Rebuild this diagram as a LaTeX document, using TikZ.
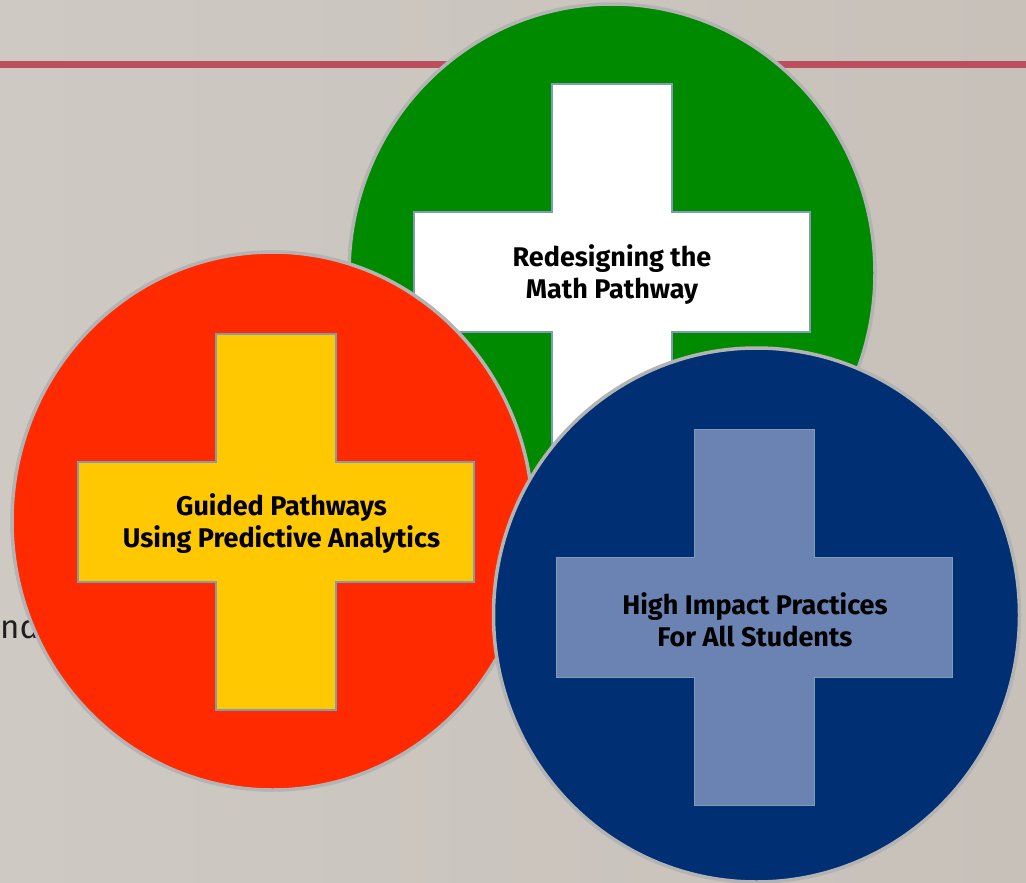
\documentclass[tikz,border=0pt]{standalone}
\usepackage{fontspec}
\setmainfont{Fira Sans}
\usetikzlibrary{shapes.geometric}
\definecolor{slidebg}{HTML}{CEC9C3}
\definecolor{slidebgr}{HTML}{C8C1BA}
\definecolor{rulered}{HTML}{BC4F5E}
\definecolor{pgreen}{HTML}{008A00}
\definecolor{pred}{HTML}{FF2A00}
\definecolor{pnavy}{HTML}{003073}
\definecolor{pyellow}{HTML}{FFC800}
\definecolor{psteel}{HTML}{6A83B3}
\definecolor{plusline}{HTML}{7F9CB4}
\definecolor{ringgray}{HTML}{B3B3B3}
\tikzset{
  ring/.style={ellipse, draw=ringgray, line width=3.5pt, inner sep=0pt},
  plusedge/.style={draw=plusline, line width=1.5pt},
  pluslbl/.style={align=center, font=\fontsize{27}{32}\selectfont\bfseries, text=black},
  rulebar/.style={rulered, line width=7pt},
}
% one cross, #1 = centre, #2 = fill
\newcommand\drawplus[2]{%
  \draw[plusedge, fill=#2, shift={#1}]
    (-60,-188) -- (60,-188) -- (60,-60) -- (198,-60) -- (198,60) -- (60,60)
    -- (60,188) -- (-60,188) -- (-60,60) -- (-198,60) -- (-198,-60) -- (-60,-60) -- cycle;}

\begin{document}
\begin{tikzpicture}[x=1pt,y=-1pt]
  \useasboundingbox (0,0) rectangle (1026,883);

  % slide background and title rule
  \fill[left color=slidebg, right color=slidebgr] (0,0) rectangle (1026,883);
  \draw[rulebar] (0,64.5) -- (1026,64.5);
  \node[anchor=base west, font=\fontsize{33}{40}\selectfont, text=black!88, inner sep=0pt]
    (tail) at (0,638) {nd};

  % green: math pathway
  \node[ring, fill=pgreen, minimum width=526pt, minimum height=538pt] (math) at (612,273) {};
  \coordinate (mathc) at (612,272);
  \drawplus{(mathc)}{white}
  \node[pluslbl] (mathlbl) at (612,275) {Redesigning the\\Math Pathway};

  % red: guided pathways
  \node[ring, fill=pred, minimum width=521pt, minimum height=538pt] (guided) at (272.5,521) {};
  \coordinate (guidedc) at (276,522);
  \drawplus{(guidedc)}{pyellow}
  \node[pluslbl] (guidedlbl) at (281.5,524) {Guided Pathways\\Using Predictive Analytics};

  % blue: high impact practices
  \node[ring, fill=pnavy, minimum width=526pt, minimum height=534pt] (impact) at (756.5,615) {};
  \coordinate (impactc) at (754.5,617.5);
  \drawplus{(impactc)}{psteel}
  \node[pluslbl] (impactlbl) at (755,619.5) {High Impact Practices\\For All Students};

\end{tikzpicture}
\end{document}
